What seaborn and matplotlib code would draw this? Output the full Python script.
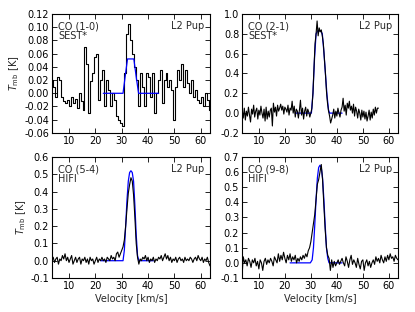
import numpy as np
import matplotlib
matplotlib.use("Agg")
import matplotlib.pyplot as plt
import seaborn as sns

# CO (1-0) SEST*, canales de 0.75 km/s desde 3.5
tmb_10 = [0.02, 0.01, -0.005, 0.025, 0.02, -0.005, -0.012, -0.015, -0.01, -0.02,
          -0.005, -0.015, -0.008, -0.022, 0.0, -0.012, -0.025, 0.07, 0.045, -0.03,
          0.018, 0.03, 0.055, 0.06, -0.01, 0.02, 0.035, -0.02, 0.02, 0.005,
          -0.02, 0.0, -0.01, -0.035, -0.04, -0.045, -0.05, 0.03, 0.09, 0.105,
          0.08, 0.06, 0.04, 0.02, -0.02, 0.03, 0.01, -0.02, 0.03, 0.025,
          -0.005, 0.03, -0.03, 0.0, 0.02, 0.035, -0.015, 0.02, 0.03, 0.01,
          0.02, 0.005, -0.04, 0.01, 0.035, 0.02, 0.045, 0.01, 0.035, 0.015,
          0.0, 0.02, -0.005, 0.005, -0.01, -0.015, -0.005, -0.02, 0.0, -0.01,
          -0.025]
mod_10_v = [23, 30.5, 31.3, 32.2, 33.5, 34.6, 35.5, 36.4, 44]
mod_10_t = [0, 0, 0.025, 0.052, 0.052, 0.052, 0.025, 0, 0]

# CO (2-1) SEST*, canales de 0.4 km/s desde 3.6
tmb_21 = [0.03, -0.05, 0.05, -0.07, 0.02, -0.03, 0.06, -0.02, -0.09, 0.04,
          -0.01, 0.08, -0.04, 0.02, 0.05, -0.06, 0.03, -0.02, 0.07, 0.0,
          -0.05, 0.04, -0.08, 0.06, -0.06, 0.02, -0.04, 0.03, 0.05, -0.13,
          0.1, 0.01, 0.06, -0.03, 0.08, 0.02, 0.05, 0.09, 0.03, 0.07,
          -0.01, 0.06, 0.04, 0.01, 0.08, -0.02, 0.05, 0.03, 0.12, 0.0,
          0.07, -0.04, 0.04, 0.02, -0.05, 0.03, 0.13, -0.02, 0.05, -0.06,
          0.02, 0.06, -0.03, 0.04, 0.01, -0.04, 0.0,
          0.05, 0.2, 0.45, 0.7, 0.8, 0.93, 0.78, 0.86, 0.82, 0.84,
          0.78, 0.7, 0.55, 0.4, 0.22, 0.1, 0.02, -0.03, -0.1,
          -0.06, -0.02, 0.04, -0.05, 0.02, -0.03, 0.05, 0.0, -0.04, 0.03,
          0.06, 0.15, 0.02, 0.08, -0.02, 0.1, 0.05, 0.12, 0.03, 0.07,
          0.0, 0.09, -0.03, 0.06, 0.02, -0.05, 0.04, 0.0, -0.07, 0.03,
          -0.04, 0.02, -0.06, 0.01, -0.08, -0.03, 0.03, -0.07, 0.01, -0.05,
          0.04, -0.02, 0.06, 0.0, 0.05, 0.05]
mod_21_v = [24, 30.2, 30.8, 31.4, 32, 32.6, 33.2, 33.8, 34.4, 35, 35.6, 36.2, 36.8, 37.2, 42]
mod_21_t = [0, 0, 0.2, 0.55, 0.8, 0.83, 0.83, 0.83, 0.8, 0.62, 0.4, 0.18, 0.03, 0, 0]

# CO (5-4) HIFI, canales de 0.5 km/s desde 3.5
tmb_54 = [0.0, 0.02, -0.01, 0.01, 0.02, -0.02, 0.01, 0.0, 0.03, 0.01,
          0.04, 0.0, 0.02, -0.01, 0.01, 0.03, -0.02, 0.0, 0.02, -0.01,
          0.01, 0.02, -0.02, 0.01, 0.0, 0.02, -0.01, 0.01, -0.02, 0.02,
          0.0, 0.01, -0.02, 0.0, 0.02, -0.01, 0.01, 0.0, 0.02, 0.0,
          0.01, -0.01, 0.02, 0.01, 0.0, 0.03, 0.01, 0.02, 0.0, 0.04,
          0.05, 0.02, 0.04, 0.06,
          0.08, 0.12, 0.2, 0.3, 0.39, 0.44, 0.48, 0.46, 0.38, 0.25, 0.1, 0.02, -0.02,
          0.01, 0.0, 0.02, 0.01, 0.03, 0.0, 0.02, -0.01, 0.01, 0.0,
          0.02, -0.01, 0.01, 0.0, 0.02, 0.01, 0.03, 0.0, 0.02, 0.04,
          0.01, 0.03, 0.0, 0.02, -0.01, 0.01, 0.0, 0.02, -0.01, 0.01,
          0.02, 0.0, 0.01, -0.01, 0.02, 0.0, 0.01, 0.0, 0.02, 0.01,
          -0.01, 0.01, 0.02, 0.0, 0.03, 0.01, 0.0, 0.02, -0.01, 0.01,
          0.0, 0.02, -0.01, -0.03]
mod_54_v = [22, 30.5, 31.0, 31.5, 32.0, 32.5, 33.0, 33.5, 34.0, 34.5, 35.0, 35.5, 36.0, 36.5, 42]
mod_54_t = [0, 0, 0.06, 0.2, 0.35, 0.46, 0.51, 0.52, 0.51, 0.46, 0.32, 0.15, 0.03, 0, 0]

# CO (9-8) HIFI, canales de 0.5 km/s desde 3.5
tmb_98 = [-0.1, 0.04, 0.0, 0.02, -0.02, 0.03, 0.01, -0.03, 0.02, 0.0,
          0.03, -0.02, 0.01, -0.04, 0.02, 0.0, -0.05, 0.01, 0.03, -0.01,
          0.02, 0.0, 0.03, 0.01, -0.02, 0.04, 0.02, 0.0, 0.06, 0.01,
          0.05, 0.02, 0.07, 0.03, 0.0, 0.05, 0.02, 0.06, 0.01, 0.04,
          0.02, 0.05, 0.0, 0.03, 0.01, 0.04, 0.02, 0.05, 0.03, 0.06,
          0.04, 0.08, 0.1, 0.14,
          0.2, 0.26, 0.32, 0.42, 0.52, 0.55, 0.6, 0.65, 0.55, 0.38, 0.22, 0.1, 0.05,
          0.03, -0.05, 0.02, -0.03, 0.01, -0.02, 0.0, 0.02, -0.01, 0.01,
          0.03, 0.0, -0.02, 0.04, 0.01, -0.03, 0.02, 0.05, -0.01, 0.02,
          0.0, -0.03, 0.03, -0.01, -0.04, 0.01, 0.02, -0.05, 0.0, 0.02,
          -0.02, 0.01, -0.03, 0.0, 0.02, -0.01, 0.04, 0.01, 0.03, 0.0,
          0.05, 0.02, 0.0, 0.04, 0.01, 0.05, 0.02, 0.06, 0.03, 0.04,
          0.01, 0.05, 0.03, 0.02]
mod_98_v = [22, 29.8, 30.5, 31, 31.5, 32, 32.5, 33, 33.5, 34, 34.5, 35, 35.5, 36, 36.5, 37, 42]
mod_98_t = [0, 0, 0.02, 0.1, 0.25, 0.42, 0.56, 0.63, 0.645, 0.63, 0.56, 0.42, 0.25, 0.1, 0.03, 0, 0]

paneles = [
    dict(v0=3.5, dv=0.75, tmb=tmb_10, mv=mod_10_v, mt=mod_10_t, lin='CO (1-0)', tel='SEST*',
         ylim=(-0.06, 0.12), yt=np.arange(-0.06, 0.121, 0.02), fmt='%.2f', steps=True),
    dict(v0=3.6, dv=0.4, tmb=tmb_21, mv=mod_21_v, mt=mod_21_t, lin='CO (2-1)', tel='SEST*',
         ylim=(-0.2, 1.0), yt=np.arange(-0.2, 1.01, 0.2), fmt='%.1f', steps=False),
    dict(v0=3.5, dv=0.5, tmb=tmb_54, mv=mod_54_v, mt=mod_54_t, lin='CO (5-4)', tel='HIFI',
         ylim=(-0.1, 0.6), yt=np.arange(-0.1, 0.61, 0.1), fmt='%.1f', steps=False),
    dict(v0=3.5, dv=0.5, tmb=tmb_98, mv=mod_98_v, mt=mod_98_t, lin='CO (9-8)', tel='HIFI',
         ylim=(-0.1, 0.7), yt=np.arange(-0.1, 0.71, 0.1), fmt='%.1f', steps=False),
]

sns.set_style("ticks")
plt.rcParams.update({
    'font.family': ['DejaVu Sans'],
    'font.size': 7,
    'axes.edgecolor': 'black',
    'axes.linewidth': 0.8,
    'xtick.direction': 'in',
    'ytick.direction': 'in',
    'xtick.top': True,
    'ytick.right': True,
    'xtick.color': 'black',
    'ytick.color': 'black',
})

fig = plt.figure(figsize=(4.15, 3.12), dpi=100)
posiciones = [
    [0.125, 0.574, 0.381, 0.381],
    [0.583, 0.574, 0.376, 0.381],
    [0.125, 0.109, 0.381, 0.388],
    [0.583, 0.109, 0.376, 0.388],
]

for i, (p, pos) in enumerate(zip(paneles, posiciones)):
    ax = fig.add_axes(pos)
    vel = p['v0'] + p['dv'] * np.arange(len(p['tmb']))
    if p['steps']:
        sns.lineplot(x=vel, y=p['tmb'], ax=ax, color='black', lw=0.8,
                     drawstyle='steps-mid', estimator=None)
        sns.lineplot(x=p['mv'], y=p['mt'], ax=ax, color='#0000ff', lw=0.9, estimator=None)
    else:
        sns.lineplot(x=p['mv'], y=p['mt'], ax=ax, color='#0000ff', lw=0.9, estimator=None)
        sns.lineplot(x=vel, y=p['tmb'], ax=ax, color='black', lw=0.8, estimator=None)

    ax.set_xlim(3.5, 63.5)
    ax.set_ylim(*p['ylim'])
    ax.set_xticks([10, 20, 30, 40, 50, 60])
    ax.set_yticks(p['yt'])
    ax.yaxis.set_major_formatter(matplotlib.ticker.FormatStrFormatter(p['fmt']))
    ax.tick_params(labelsize=7, length=3.5, width=0.6, pad=2)
    for s in ax.spines.values():
        s.set_visible(True)

    ax.text(0.04, 0.94, p['lin'] + '\n' + p['tel'], transform=ax.transAxes,
            ha='left', va='top', fontsize=7, linespacing=1.0)
    ax.text(0.965, 0.94, 'L2 Pup', transform=ax.transAxes,
            ha='right', va='top', fontsize=7)

    if i % 2 == 0:
        ax.set_ylabel(r'$T_{\rm mb}$ [K]', fontsize=7, labelpad=2)
    else:
        ax.set_ylabel('')
    if i >= 2:
        ax.set_xlabel('Velocity [km/s]', fontsize=7, labelpad=2)
    else:
        ax.set_xlabel('')

fig.savefig('out.png', dpi=100)
